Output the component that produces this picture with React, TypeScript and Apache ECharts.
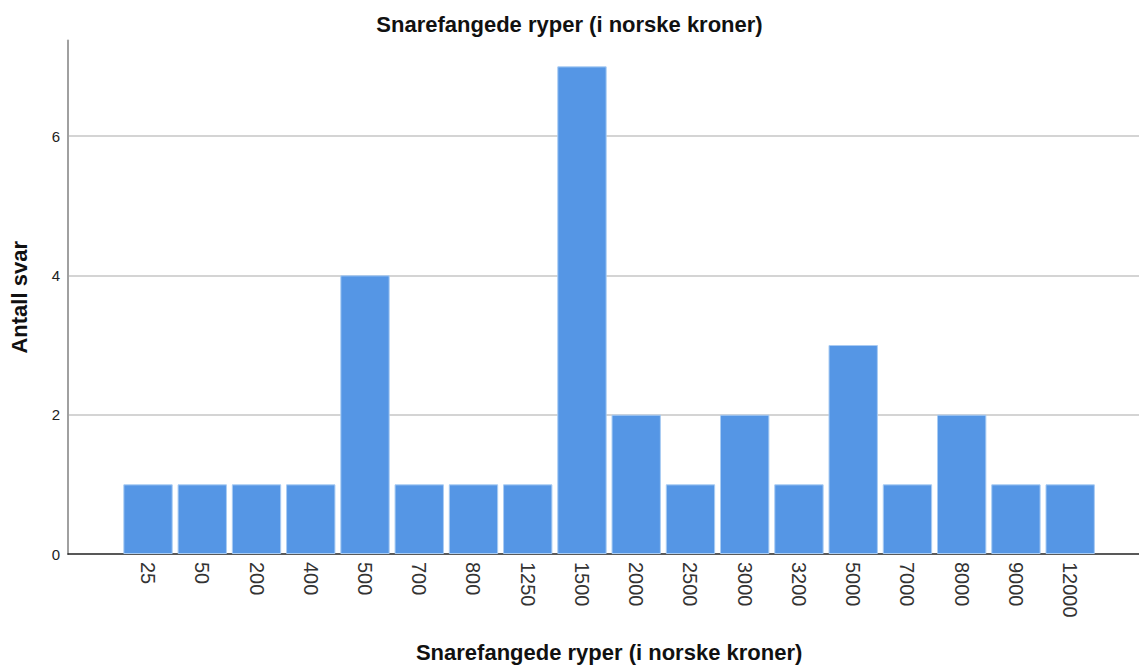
import React, { useEffect, useRef } from "react";
import * as echarts from "echarts";

const categories = ["25", "50", "200", "400", "500", "700", "800", "1250", "1500", "2000", "2500", "3000", "3200", "5000", "7000", "8000", "9000", "12000"];
const counts = [1, 1, 1, 1, 4, 1, 1, 1, 7, 2, 1, 2, 1, 3, 1, 2, 1, 1];
const titleText = "Snarefangede ryper (i norske kroner)";
const xName = "Snarefangede ryper (i norske kroner)";
const yName = "Antall svar";

const FONT = "'Liberation Sans', Arial, Helvetica, sans-serif";
const Y_MAX = 7.37;

export default function App() {
  const ref = useRef<HTMLDivElement>(null);
  useEffect(() => {
    if (!ref.current) return;
    const chart = echarts.init(ref.current, undefined, { renderer: "svg" });
    chart.setOption({
      animation: false,
      backgroundColor: "#ffffff",
      title: {
        text: titleText,
        left: "center",
        top: 8,
        textStyle: { fontFamily: FONT, fontSize: 22, fontWeight: "bold", color: "#111" },
      },
      grid: [
        { left: 66.5, right: 0, top: 40.6, bottom: 114 },
        { left: 120.9, right: 41.7, top: 40.6, bottom: 114 },
      ],
      xAxis: [
        {
          type: "value",
          gridIndex: 0,
          min: 0,
          max: 1,
          axisLine: { show: true, lineStyle: { color: "#222", width: 1.5 } },
          axisTick: { show: false },
          axisLabel: { show: false },
          splitLine: { show: false },
        },
        {
          type: "category",
          gridIndex: 1,
          data: categories,
          boundaryGap: true,
          axisLine: { show: false },
          axisTick: { show: false },
          axisLabel: {
            rotate: -90,
            fontFamily: FONT,
            fontSize: 20,
            color: "#333",
            margin: 8,
            interval: 0,
          },
          name: xName,
          nameLocation: "middle",
          nameGap: 87,
          nameTextStyle: { fontFamily: FONT, fontSize: 22, fontWeight: "bold", color: "#111" },
        },
      ],
      yAxis: [
        {
          type: "value",
          gridIndex: 0,
          min: 0,
          max: Y_MAX,
          interval: 2,
          axisLine: { show: true, lineStyle: { color: "#a0a0a0", width: 2 } },
          axisTick: { show: false },
          axisLabel: {
            fontFamily: FONT,
            fontSize: 15,
            color: "#222",
            margin: 8,
            showMaxLabel: false,
          },
          splitLine: {
            show: true,
            showMinLine: false,
            showMaxLine: false,
            lineStyle: { color: "#d4d4d4", width: 2 },
          },
          name: yName,
          nameLocation: "middle",
          nameRotate: 90,
          nameGap: 38,
          nameTextStyle: { fontFamily: FONT, fontSize: 22, fontWeight: "bold", color: "#111" },
        },
        {
          type: "value",
          gridIndex: 1,
          min: 0,
          max: Y_MAX,
          show: false,
          splitLine: { show: false },
        },
      ],
      series: [
        {
          type: "scatter",
          xAxisIndex: 0,
          yAxisIndex: 0,
          data: [],
          silent: true,
        },
        {
          type: "bar",
          xAxisIndex: 1,
          yAxisIndex: 1,
          data: counts,
          barCategoryGap: "9%",
          itemStyle: { color: "#5596e5", borderColor: "#a9ccf3", borderWidth: 1 },
        },
      ],
    });
    return () => chart.dispose();
  }, []);
  return <div ref={ref} style={{ position: "fixed", left: 0, top: 0, width: 1139, height: 668 }} />;
}
